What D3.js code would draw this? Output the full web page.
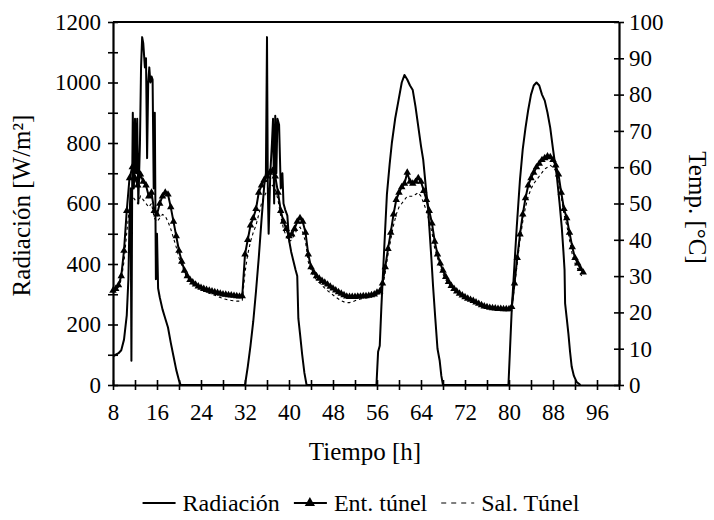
<!DOCTYPE html>
<html lang="es">
<head>
<meta charset="UTF-8">
<title>Radiación y temperatura del túnel</title>
<script src="https://d3js.org/d3.v7.min.js"></script>
<style>
  body { margin: 0; background: #fff; }
  svg { font-family: "Liberation Serif", "Times New Roman", serif; }
  .axis text { font-size: 23px; fill: #000; font-family: "Liberation Serif", serif; }
  .axis path, .axis line { stroke: #000; }
  .axis-title { font-size: 25px; fill: #000; }
  .legend text { font-size: 24px; fill: #000; }
</style>
</head>
<body>
<svg id="chart" width="714" height="520"></svg>
<script>
// radiación solar [W/m2], horas irregulares
const radHours = [
  8.0, 8.5, 9.0, 9.5, 10.0, 10.5, 10.8, 11.0, 11.2, 11.35, 11.5, 11.6, 11.8, 12.0, 12.2, 12.4, 12.6, 12.9,
  13.1, 13.3, 13.5, 13.8, 14.0, 14.2, 14.4, 14.6, 14.8, 15.0, 15.2, 15.4, 15.6, 15.8, 16.0, 16.2, 16.5,
  17.0, 17.5, 18.0, 18.5, 19.0, 19.5, 20.0, 20.3, 31.9,
  32.0, 32.5, 33.0, 33.5, 34.0, 34.5, 35.0, 35.5, 35.8, 36.0, 36.15, 36.3, 36.6, 36.9, 37.1, 37.3, 37.5,
  37.7, 37.9, 38.2, 38.5, 38.8, 39.0, 39.3, 39.7, 40.0, 40.4, 40.8, 41.2, 41.5, 41.7, 42.0, 42.4, 42.8, 43.2, 55.9,
  56.2, 56.5, 56.8, 57.2, 57.8, 58.3, 58.7, 59.3, 59.9, 60.5, 61.0, 61.5, 62.0, 62.5, 63.0, 63.5, 64.0,
  64.4, 64.9, 65.3, 65.9, 66.2, 66.6, 67.0, 67.4, 67.7, 68.0, 79.9,
  80.5, 81.0, 81.4, 82.0, 82.5, 83.0, 83.5, 84.0, 84.5, 85.0, 85.5, 86.0, 86.5, 87.0, 87.5, 88.0, 88.7,
  89.2, 89.6, 89.9, 90.1, 90.2, 90.5, 90.8, 91.1, 91.4, 91.8, 92.3, 93.0
];
const radValues = [
  95, 100, 105, 115, 150, 230, 350, 550, 650, 80, 700, 900, 650, 880, 700, 880, 600, 800,
  1050, 1150, 1130, 1050, 1080, 750, 1000, 1050, 1000, 1020, 1010, 650, 900, 350, 500, 320, 290,
  250, 220, 190, 140, 95, 50, 15, 0, 0,
  0, 60, 130, 210, 310, 420, 545, 660, 700, 1150, 650, 500, 700, 800, 880, 600, 890,
  700, 880, 860, 650, 700, 600, 580, 560, 480, 440, 410, 380, 360, 220, 170, 100, 40, 0, 0,
  110, 130, 260, 410, 630, 730, 800, 880, 940, 1000, 1025, 1010, 990, 975, 920, 855, 790,
  745, 650, 580, 415, 325, 220, 120, 80, 30, 0, 0,
  250, 400, 520, 680, 780, 850, 910, 960, 990, 1000, 990, 960, 940, 900, 850, 780, 690,
  600, 520, 440, 380, 270, 220, 170, 110, 60, 30, 10, 0
];

// temperaturas [°C], cada media hora desde las 8 h
const tempHours = d3.range(8, 94, 0.5);
const entTunel = [
  26, 26.5, 27.5, 30, 37, 48, 57, 60, 57, 55, 58, 56, 55, 52, 53, 48, 47, 50, 52, 53, 52.5, 49, 45, 41, 37, 34, 31.5, 30, 29, 28.3, 27.7, 27.2,
  26.8, 26.5, 26.2, 26, 25.8, 25.6, 25.4, 25.2, 25, 24.9, 24.8, 24.7, 24.6, 24.5, 24.4, 24.5,
  36, 40, 44, 46, 48.5, 53, 55, 56.5, 57.5, 58.5, 59, 57.5, 53, 48, 45, 43, 41, 41.5, 43, 45, 46, 45, 42, 36, 32.5, 31, 30, 29.3, 28.7, 28.2, 27.7, 27.1,
  26.6, 26.1, 25.6, 25.2, 24.8, 24.4, 24.3, 24.3, 24.3, 24.4, 24.4, 24.5, 24.5, 24.6, 24.8, 25,
  25.5, 25.8, 28, 32.5, 37.5, 42, 47, 51, 53, 54.5, 55.5, 58.5, 56, 55.5, 56, 57, 56, 53.5, 51, 48, 44.5, 39.5, 36, 33.5, 31.5, 29.8, 28.4, 27.3, 26.5, 25.8,
  25.2, 24.7, 24.2, 23.8, 23.5, 23.2, 22.8, 22.4, 22, 21.7, 21.5, 21.3, 21.2, 21.1, 21, 21, 20.9, 20.9, 20.9, 21.5,
  28, 35, 41.5, 47, 51.5, 55, 57, 58.5, 60, 61, 62, 62.5, 63, 62.8, 62, 60.5, 58, 53, 48.5, 46, 42, 38, 35, 33.5, 32, 31
];
const salTunel = [
  25.5, 26, 27, 29, 34, 42, 49, 52, 51, 50, 52, 51, 50, 49, 50, 46, 45, 46, 47, 46.5, 45, 43, 40.5, 38, 35, 33, 31, 29.5, 28.5, 27.8, 27.2, 26.8,
  26.3, 26, 25.6, 25.3, 25, 24.7, 24.4, 24.1, 23.8, 23.6, 23.4, 23.3, 23.2, 23.1, 23.1, 23.3,
  31, 36, 39.5, 42, 44, 47, 50, 52, 53.5, 54.5, 55, 54, 51, 46.5, 43, 41, 39.5, 40, 41.5, 43, 43.5, 42, 39.5, 34, 31.5, 30, 29, 28.2, 27.4, 26.7,
  26, 25.4, 24.8, 24.2, 23.7, 23.2, 22.9, 22.7, 22.7, 22.9, 23.2, 23.5, 23.7, 23.9, 24, 24.1, 24.3, 24.5,
  25, 25.3, 27, 31, 36, 40, 44, 47, 49, 50, 51, 52, 52, 52, 52.5, 53, 52, 50, 48, 45, 42, 37.5, 35, 32.5, 30.5, 29, 27.8, 27, 26.2, 25.5,
  24.9, 24.4, 24, 23.6, 23.2, 22.9, 22.5, 22.2, 21.8, 21.5, 21.3, 21.1, 21, 20.9, 20.8, 20.8, 20.7, 20.7, 20.7, 21.2,
  27, 33.5, 40, 45, 49, 52, 54, 55.5, 56.5, 57.5, 58.5, 59.5, 60, 60.5, 60, 59, 56.5, 52, 47, 44, 40, 36, 33.5, 32, 30.5, 29.5
];

const xTicks = d3.range(8, 101, 4);
const radTicks = d3.range(0, 1201, 100);
const tempTicks = d3.range(0, 101, 10);
const legendLabels = ["Radiación", "Ent. túnel", "Sal. Túnel"];

const width = 714, height = 520;
const margin = { top: 22, right: 95, bottom: 135, left: 113 };
const innerW = width - margin.left - margin.right;
const innerH = height - margin.top - margin.bottom;

const svg = d3.select("#chart");

const x = d3.scaleLinear().domain([8, 100]).range([margin.left, margin.left + innerW]);
const yRad = d3.scaleLinear().domain([0, 1200]).range([margin.top + innerH, margin.top]);
const yTemp = d3.scaleLinear().domain([0, 100]).range([margin.top + innerH, margin.top]);

// borde superior
svg.append("line")
  .attr("x1", x(8)).attr("x2", x(100))
  .attr("y1", yRad(1200)).attr("y2", yRad(1200))
  .attr("stroke", "#000").attr("stroke-width", 2.2);

// series
const radData = radHours.map((h, i) => [h, radValues[i]]);
const entData = tempHours.map((h, i) => [h, entTunel[i]]);
const salData = tempHours.map((h, i) => [h, salTunel[i]]);

svg.append("path")
  .datum(radData)
  .attr("fill", "none").attr("stroke", "#000").attr("stroke-width", 2)
  .attr("stroke-linejoin", "round")
  .attr("d", d3.line().x(d => x(d[0])).y(d => yRad(d[1])));

svg.append("path")
  .datum(salData)
  .attr("fill", "none").attr("stroke", "#000").attr("stroke-width", 1.1)
  .attr("stroke-dasharray", "3,3")
  .attr("d", d3.line().x(d => x(d[0])).y(d => yTemp(d[1])));

svg.append("path")
  .datum(entData)
  .attr("fill", "none").attr("stroke", "#000").attr("stroke-width", 2)
  .attr("d", d3.line().x(d => x(d[0])).y(d => yTemp(d[1])));

const tri = d3.symbol(d3.symbolTriangle, 24);
svg.append("g").selectAll("path")
  .data(entData)
  .join("path")
  .attr("transform", d => `translate(${x(d[0])},${yTemp(d[1])})`)
  .attr("d", tri)
  .attr("fill", "#000");

// ejes
const gLeft = svg.append("g").attr("class", "axis")
  .attr("transform", `translate(${margin.left},0)`)
  .call(d3.axisLeft(yRad).tickValues(radTicks).tickSizeOuter(0).tickSizeInner(5).tickPadding(7)
    .tickFormat(d => d % 200 === 0 ? d : ""));
gLeft.selectAll(".tick line").attr("x1", 5).attr("x2", -5).attr("stroke-width", 1.6);

const gRight = svg.append("g").attr("class", "axis")
  .attr("transform", `translate(${margin.left + innerW},0)`)
  .call(d3.axisRight(yTemp).tickValues(tempTicks).tickSizeOuter(0).tickSizeInner(5).tickPadding(5));
gRight.selectAll(".tick line").attr("x1", -5).attr("x2", 5).attr("stroke-width", 1.6);

const gBottom = svg.append("g").attr("class", "axis")
  .attr("transform", `translate(0,${margin.top + innerH})`)
  .call(d3.axisBottom(x).tickValues(xTicks).tickSizeOuter(0).tickSizeInner(5).tickPadding(14)
    .tickFormat(d => (d - 8) % 8 === 0 && d <= 96 ? d : ""));
gBottom.selectAll(".tick line").attr("y1", -5).attr("y2", 5).attr("stroke-width", 1.6);

svg.selectAll(".axis .domain").attr("stroke-width", 2.2);

// títulos
svg.append("text").attr("class", "axis-title")
  .attr("transform", `translate(30,${margin.top + innerH / 2 + 2}) rotate(-90)`)
  .attr("text-anchor", "middle")
  .text("Radiación [W/m²]");

svg.append("text").attr("class", "axis-title")
  .attr("transform", `translate(689,${margin.top + innerH / 2 + 4}) rotate(90)`)
  .attr("text-anchor", "middle")
  .text("Temp. [°C]");

svg.append("text").attr("class", "axis-title")
  .attr("x", (x(8) + x(96)) / 2 + 10).attr("y", 460)
  .attr("text-anchor", "middle")
  .text("Tiempo [h]");

// leyenda
const legend = svg.append("g").attr("class", "legend");
const ly = 503;
let lx = 0;
legendLabels.forEach((name, i) => {
  const item = legend.append("g").attr("transform", `translate(${lx},0)`);
  const line = item.append("line")
    .attr("x1", 0).attr("x2", 33).attr("y1", ly).attr("y2", ly)
    .attr("stroke", "#000");
  if (i === 0) line.attr("stroke-width", 1.8);
  if (i === 1) {
    line.attr("stroke-width", 2);
    item.append("path").attr("d", d3.symbol(d3.symbolTriangle, 45))
      .attr("transform", `translate(16,${ly})`);
  }
  if (i === 2) line.attr("stroke-width", 1.1).attr("stroke-dasharray", "5,5");
  const t = item.append("text").attr("x", 40).attr("y", ly + 8).text(name);
  lx += 40 + t.node().getComputedTextLength() + 14;
});
const lw = lx - 14;
legend.attr("transform", `translate(${(width - lw) / 2 + 4},0)`);
</script>
</body>
</html>
